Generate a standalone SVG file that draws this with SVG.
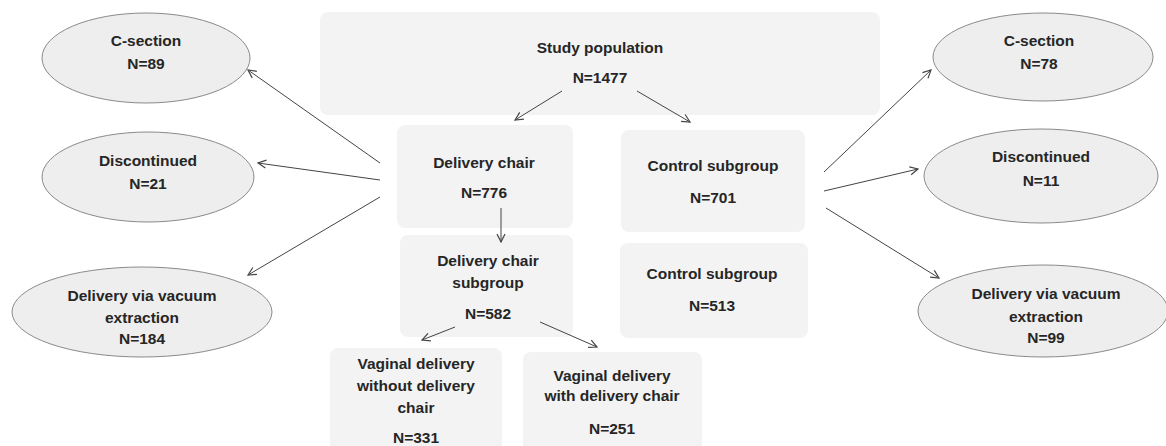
<svg xmlns="http://www.w3.org/2000/svg" width="1166" height="446" viewBox="0 0 1166 446">
<style>
.box{fill:#f3f3f3;stroke:none}
.ell{fill:#eeeeee;stroke:#8a8a8a;stroke-width:1}
text{font-family:"Liberation Sans",Arial,sans-serif;font-weight:bold;font-size:15.5px;fill:#262626;text-anchor:middle}
.con line{stroke:#444;stroke-width:1;marker-end:url(#arr)}
</style>
<defs>
<marker id="arr" viewBox="0 0 10 10" refX="9" refY="5" markerWidth="10" markerHeight="10" markerUnits="userSpaceOnUse" orient="auto">
<path d="M1,1 L9,5 L1,9" fill="none" stroke="#444" stroke-width="1.2"/>
</marker>
</defs>
<rect width="1166" height="446" fill="#ffffff"/>
<g id="study"><rect class="box" x="320" y="12" width="560" height="103" rx="8"/><text x="600" y="53">Study population</text><text x="600" y="83">N=1477</text></g>
<g id="chair"><rect class="box" x="397" y="125" width="176" height="103" rx="8"/><text x="484" y="168">Delivery chair</text><text x="484" y="198">N=776</text></g>
<g id="control1"><rect class="box" x="621" y="130" width="184" height="102" rx="8"/><text x="713" y="171">Control subgroup</text><text x="713" y="203">N=701</text></g>
<g id="chairsub"><rect class="box" x="400" y="235" width="173" height="102" rx="8"/><text x="488" y="266">Delivery chair</text><text x="488" y="288">subgroup</text><text x="488" y="319">N=582</text></g>
<g id="control2"><rect class="box" x="620" y="243" width="188" height="95" rx="8"/><text x="712" y="279">Control subgroup</text><text x="712" y="311">N=513</text></g>
<g id="vagwithout"><rect class="box" x="330" y="348" width="172" height="110" rx="8"/><text x="416" y="369">Vaginal delivery</text><text x="416" y="391">without delivery</text><text x="416" y="413">chair</text><text x="416" y="443">N=331</text></g>
<g id="vagwith"><rect class="box" x="523" y="352" width="179" height="106" rx="8"/><text x="612" y="381">Vaginal delivery</text><text x="612" y="401">with delivery chair</text><text x="612" y="434">N=251</text></g>
<g id="lcs"><ellipse class="ell" cx="146" cy="58" rx="104" ry="45"/><text x="146" y="46">C-section</text><text x="146" y="69">N=89</text></g>
<g id="ldisc"><ellipse class="ell" cx="148" cy="177" rx="106" ry="45"/><text x="148" y="166">Discontinued</text><text x="148" y="189">N=21</text></g>
<g id="lvac"><ellipse class="ell" cx="142" cy="312" rx="130" ry="45"/><text x="142" y="301">Delivery via vacuum</text><text x="142" y="323">extraction</text><text x="142" y="344">N=184</text></g>
<g id="rcs"><ellipse class="ell" cx="1043" cy="57" rx="110" ry="44"/><text x="1039" y="46">C-section</text><text x="1039" y="69">N=78</text></g>
<g id="rdisc"><ellipse class="ell" cx="1041" cy="176" rx="117" ry="47"/><text x="1041" y="162">Discontinued</text><text x="1041" y="186">N=11</text></g>
<g id="rvac"><ellipse class="ell" cx="1043" cy="311" rx="125" ry="46"/><text x="1046" y="299">Delivery via vacuum</text><text x="1046" y="322">extraction</text><text x="1046" y="343">N=99</text></g>
<g class="con" id="connectors">
<line x1="562" y1="91" x2="515" y2="120"/>
<line x1="637" y1="91" x2="690" y2="122"/>
<line x1="501" y1="208" x2="501" y2="242"/>
<line x1="455" y1="327" x2="422" y2="340"/>
<line x1="540" y1="322" x2="597" y2="347"/>
<line x1="380" y1="163" x2="248" y2="70"/>
<line x1="380" y1="180" x2="258" y2="163"/>
<line x1="380" y1="197" x2="248" y2="275"/>
<line x1="824" y1="172" x2="931" y2="70"/>
<line x1="824" y1="191" x2="918" y2="169"/>
<line x1="826" y1="208" x2="939" y2="278"/>
</g>
</svg>
